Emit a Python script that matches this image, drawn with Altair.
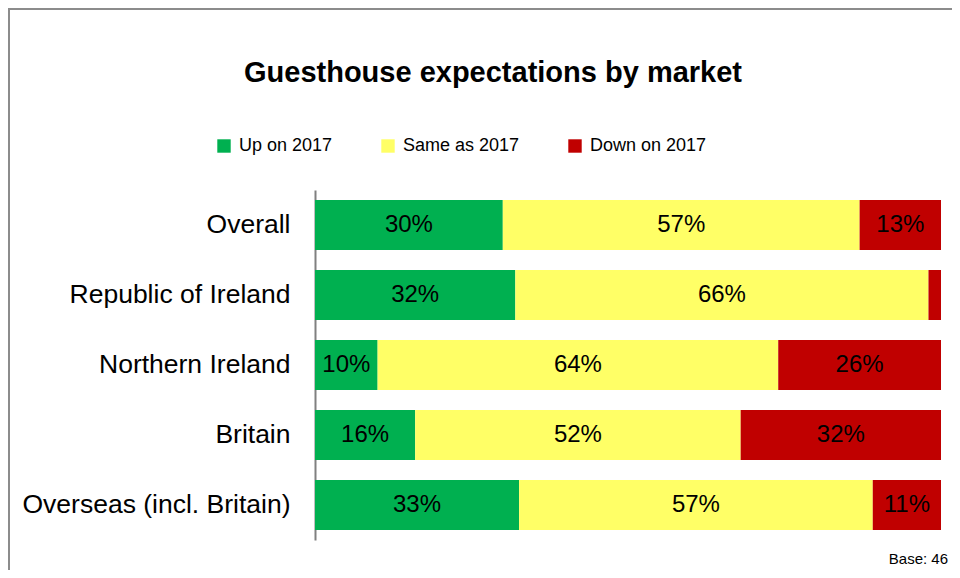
import altair as alt
import pandas as pd

markets = ["Overall", "Republic of Ireland", "Northern Ireland", "Britain", "Overseas (incl. Britain)"]
statuses = ["Up on 2017", "Same as 2017", "Down on 2017"]
colors = ["#00B050", "#FFFF66", "#C00000"]

up_vals = [30, 32, 10, 16, 32.6]
same_vals = [57, 66, 64, 52, 56.5]
down_vals = [13, 2, 26, 32, 10.9]

up_labels = ["30%", "32%", "10%", "16%", "33%"]
same_labels = ["57%", "66%", "64%", "52%", "57%"]
down_labels = ["13%", "", "26%", "32%", "11%"]

title_text = "Guesthouse expectations by market"
base_note = "Base: 46"

rows = []
for i, m in enumerate(markets):
    for j, (vals, labs) in enumerate([(up_vals, up_labels), (same_vals, same_labels), (down_vals, down_labels)]):
        rows.append({"market": m, "status": statuses[j], "value": vals[i], "label": labs[i], "ord": j})
df = pd.DataFrame(rows)

FONT = "Liberation Sans"

y_enc = alt.Y("market:N", sort=markets,
              scale=alt.Scale(paddingInner=20/70, paddingOuter=10/70),
              axis=alt.Axis(title=None, ticks=False, labelFontSize=26.5, labelFont=FONT,
                            labelColor="black", labelPadding=25, domainColor="#808080",
                            domainWidth=2, labelLimit=400))

bars = alt.Chart(df).mark_bar().encode(
    x=alt.X("value:Q", stack="zero", scale=alt.Scale(domain=[0, 100], nice=False), axis=None),
    y=y_enc,
    color=alt.Color("status:N", sort=statuses,
                    scale=alt.Scale(domain=statuses, range=colors),
                    legend=alt.Legend(title=None, orient="none", legendX=-100, legendY=-53,
                                      direction="horizontal", symbolType="square",
                                      symbolSize=180, symbolStrokeWidth=0, symbolOpacity=1,
                                      labelFontSize=18, labelFont=FONT, labelColor="black",
                                      columnPadding=46, labelOffset=6)),
    order=alt.Order("ord:Q"),
)

texts = alt.Chart(df).transform_stack(
    stack="value", groupby=["market"], as_=["v0", "v1"], sort=[alt.SortField("ord")]
).transform_calculate(
    mid="(datum.v0 + datum.v1) / 2"
).mark_text(fontSize=24, font=FONT, color="black", baseline="middle", align="center").encode(
    x=alt.X("mid:Q", scale=alt.Scale(domain=[0, 100], nice=False)),
    y=alt.Y("market:N", sort=markets),
    text="label:N",
)

note = alt.Chart(pd.DataFrame({"t": [base_note]})).mark_text(
    fontSize=15, font=FONT, color="black", align="right", baseline="middle"
).encode(x=alt.value(633), y=alt.value(369), text="t:N")

frame = alt.Chart(pd.DataFrame({"a": [0]})).mark_rect(
    fillOpacity=0, stroke="#8c8c8c", strokeWidth=2
).encode(x=alt.value(-306), x2=alt.value(800), y=alt.value(-181), y2=alt.value(500))

chart = alt.layer(frame, bars, texts, note).properties(
    width=626, height=350,
    title=alt.TitleParams(title_text, font=FONT, fontSize=29, fontWeight="bold",
                          color="black", anchor="middle", frame="group", dx=-135,
                          baseline="alphabetic", offset=-103),
    autosize=alt.AutoSizeParams(type="none"),
    padding={"left": 307, "top": 182, "right": 11, "bottom": 30},
).configure_view(stroke=None)

chart.save("out.html", embed_options={"renderer": "svg", "actions": False})
